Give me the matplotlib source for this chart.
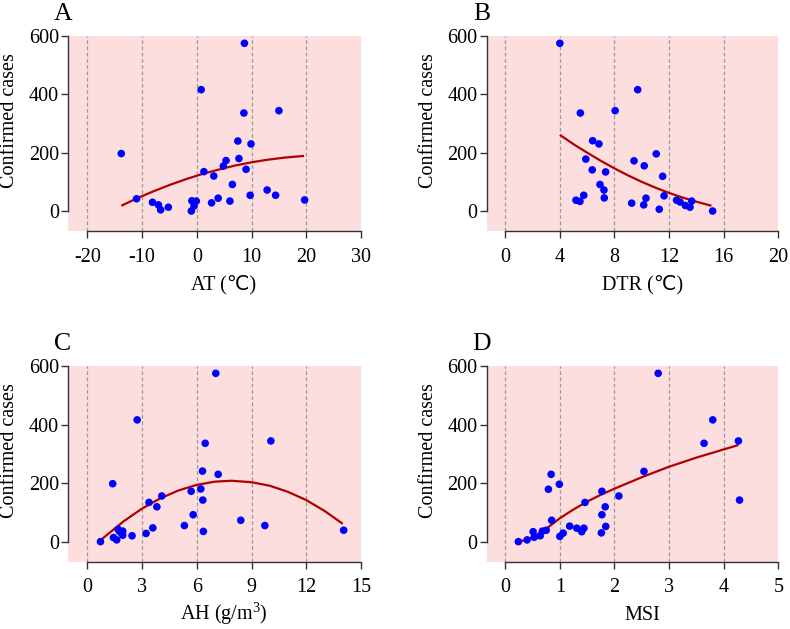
import matplotlib
matplotlib.use("Agg")
import matplotlib.pyplot as plt

plt.rcParams['font.family'] = ['Liberation Serif', 'DejaVu Sans']
plt.rcParams['mathtext.fontset'] = 'custom'
plt.rcParams['mathtext.rm'] = 'Liberation Serif'
plt.rcParams['mathtext.it'] = 'Liberation Serif:italic'

# ---------------- data ----------------
at_x = [-13.8, -11.0, -8.1, -7.0, -6.6, -5.2, -1.0, -0.9, -0.5, -0.1, 0.8, 1.3, 2.7, 3.1, 3.9,
        4.85, 5.35, 6.05, 6.5, 7.5, 7.7, 8.7, 8.6, 9.0, 9.75, 9.9, 12.85, 14.4, 15.0, 19.7]
at_y = [197, 42, 30, 21, 4, 13, 0, 35, 17, 34, 416, 135, 28, 120, 44,
        154, 173, 34, 91, 240, 180, 575, 336, 143, 54, 230, 72, 54, 344, 38]

dtr_x = [4.0, 5.5, 5.18, 5.47, 5.75, 5.9, 6.4, 6.37, 6.86, 6.94, 7.23, 7.35, 7.25, 8.05, 9.26,
         9.43, 9.7, 10.14, 10.18, 10.31, 11.06, 11.28, 11.53, 11.63, 12.55, 12.8, 13.19, 13.53, 13.66, 15.19]
dtr_y = [575, 336, 37, 33, 54, 178, 241, 141, 230, 91, 72, 134, 45, 344, 27,
         172, 416, 21, 155, 44, 196, 6, 119, 52, 37, 31, 19, 13, 34, 0]

ah_x = [0.72, 1.43, 1.39, 1.61, 1.69, 1.76, 1.85, 1.94, 1.94, 2.45, 2.73, 3.22, 3.38, 3.59, 3.81,
        4.08, 5.32, 5.69, 5.80, 6.22, 6.31, 6.33, 6.36, 6.46, 7.04, 7.17, 8.41, 9.73, 10.06, 14.05]
ah_y = [0, 14, 198, 6, 42, 35, 30, 36, 22, 20, 416, 28, 134, 47, 119,
        156, 55, 172, 92, 180, 241, 142, 35, 336, 575, 230, 73, 55, 344, 39]

msi_x = [0.24, 0.40, 0.51, 0.53, 0.64, 0.68, 0.75, 0.79, 0.84, 0.85, 0.99, 1.0, 1.06, 1.18, 1.31,
         1.40, 1.44, 1.46, 1.77, 1.77, 1.76, 1.83, 1.84, 2.08, 2.54, 2.80, 3.64, 3.80, 4.27, 4.29]
msi_y = [0, 6, 34, 15, 20, 36, 39, 179, 230, 73, 196, 18, 29, 53, 46,
         34, 46, 134, 172, 92, 30, 119, 52, 156, 240, 575, 336, 416, 344, 142]

# fitted curves
at_fit_x = [-13.8, -11, -8, -5, -2, 1, 4, 7, 10, 13, 16, 19.6]
at_fit_y = [18, 43, 67, 89, 109, 127, 142, 156, 167, 176, 183, 189]
dtr_fit_x = [4, 5, 6, 7, 8, 9, 10, 11, 12, 13, 14, 15.1]
dtr_fit_y = [261, 229, 200, 172, 146, 122, 100, 80, 62, 46, 32, 18]
ah_fit_x = [0.8, 2, 3, 4, 5, 6, 7, 7.9, 9, 10, 11, 12, 13, 14]
ah_fit_y = [9, 70, 113, 148, 175, 194, 205, 208, 203, 191, 170, 142, 105, 61]
msi_fit_x = [0.3, 0.5, 0.75, 1.0, 1.25, 1.5, 1.75, 2.0, 2.5, 3.0, 3.5, 4.0, 4.27]
msi_fit_y = [2, 14, 44, 80, 110, 137, 160, 181, 220, 256, 287, 315, 330]

y_ticks = [0, 200, 400, 600]
at_ticks = [-20, -10, 0, 10, 20, 30]
dtr_ticks = [0, 4, 8, 12, 16, 20]
ah_ticks = [0, 3, 6, 9, 12, 15]
msi_ticks = [0, 1, 2, 3, 4, 5]

panels = [
    dict(letter='A', x=at_x, y=at_y, fx=at_fit_x, fy=at_fit_y, ticks=at_ticks,
         xlim=(-23.53, 30), xlabel='AT (\u2103)', pos=(68, 36, 361, 231)),
    dict(letter='B', x=dtr_x, y=dtr_y, fx=dtr_fit_x, fy=dtr_fit_y, ticks=dtr_ticks,
         xlim=(-1.36, 20), xlabel='DTR (\u2103)', pos=(486.7, 36, 778.3, 231)),
    dict(letter='C', x=ah_x, y=ah_y, fx=ah_fit_x, fy=ah_fit_y, ticks=ah_ticks,
         xlim=(-1.06, 15), xlabel='AH (g/m$^3$)', pos=(68, 366, 361, 561.7)),
    dict(letter='D', x=msi_x, y=msi_y, fx=msi_fit_x, fy=msi_fit_y, ticks=msi_ticks,
         xlim=(-0.34, 5), xlabel='MSI', pos=(486.7, 366, 778.3, 561.7)),
]

W, H = 790, 629
fig = plt.figure(figsize=(W / 100, H / 100), dpi=100)

pink = '#FDDEDE'
blue = '#0000FF'
red = '#B00000'
axcol = '#333333'
fs = 14.5

for p in panels:
    x0, y0, x1, y1 = p['pos']
    ax = fig.add_axes([x0 / W, 1 - y1 / H, (x1 - x0) / W, (y1 - y0) / H])
    ax.set_facecolor(pink)
    ax.set_xlim(*p['xlim'])
    ax.set_ylim(-68.5, 600)
    for t in p['ticks'][:-1]:
        ax.axvline(t, color='#9a9a9a', lw=0.9, ls=(0, (3, 2)), zorder=1)
    ax.plot(p['fx'], p['fy'], color=red, lw=1.6, zorder=2, solid_capstyle='butt')
    ax.scatter(p['x'], p['y'], s=30, color=blue, edgecolors='none', zorder=3, clip_on=False)
    for s in ['top', 'right']:
        ax.spines[s].set_visible(False)
    ax.spines['left'].set_bounds(0, 600)
    ax.spines['bottom'].set_bounds(p['ticks'][0], p['ticks'][-1])
    for s in ['left', 'bottom']:
        ax.spines[s].set_color(axcol)
        ax.spines[s].set_linewidth(1.0)
    ax.set_yticks(y_ticks)
    ax.set_xticks(p['ticks'])
    ax.set_xticklabels([str(t) for t in p['ticks']])
    ax.tick_params(axis='both', length=5, width=1.0, color=axcol, labelsize=fs, labelcolor='black')
    ax.tick_params(axis='x', pad=7)
    ax.tick_params(axis='y', pad=1.5)

    # panel letter
    fig.text((x0 - 5) / W, 1 - (y0 - 16) / H, p['letter'], fontsize=18.5,
             ha='center', va='baseline')
    # y label
    fig.text((x0 - 58) / W, 1 - (y0 + 85) / H, 'Confirmed cases', fontsize=fs,
             rotation=90, ha='center', va='center')
    # x label
    fig.text((x0 + 156) / W, 1 - (y1 + 58) / H, p['xlabel'], fontsize=fs,
             ha='center', va='baseline')

fig.savefig('out.png', dpi=100)
